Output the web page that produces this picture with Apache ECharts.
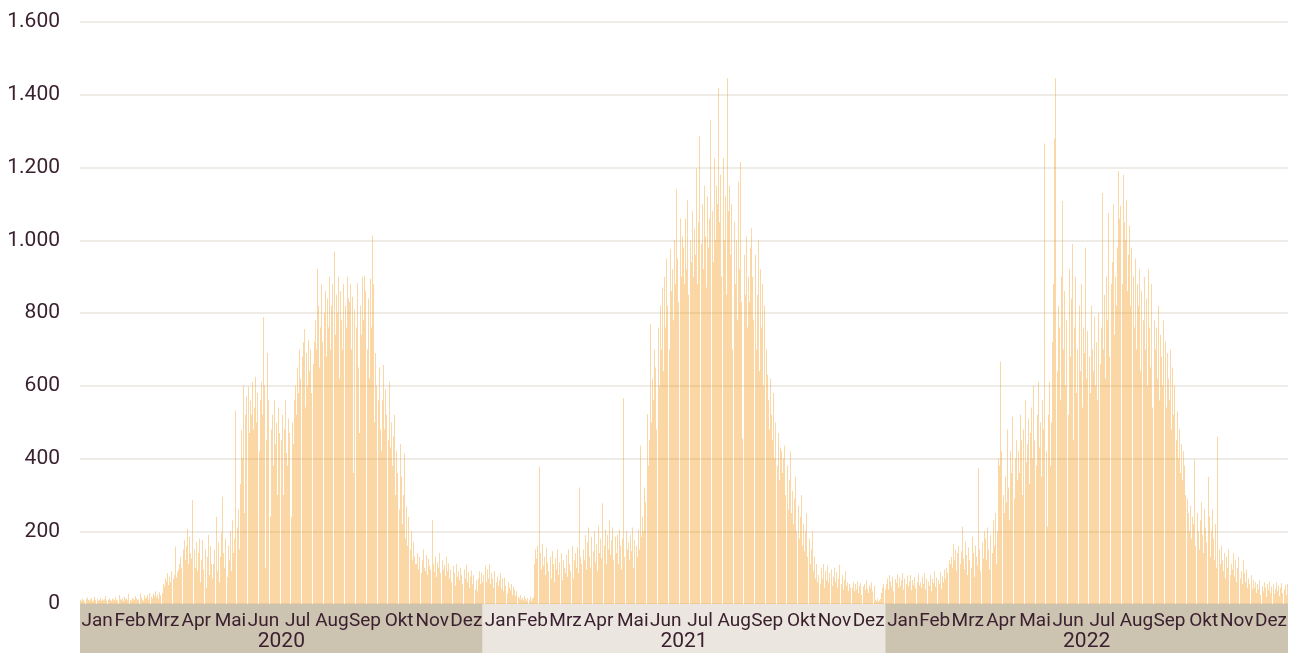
<!DOCTYPE html>
<html><head><meta charset="utf-8">
<script src="https://cdn.jsdelivr.net/npm/echarts@6/dist/echarts.min.js"></script>
<style>html,body{margin:0;padding:0;background:#fff}#chart{width:1296px;height:653px}</style>
</head><body><div id="chart"></div>
<script>
const monthNames = ['Jan','Feb','Mrz','Apr','Mai','Jun','Jul','Aug','Sep','Okt','Nov','Dez'];
const years = ['2020','2021','2022'];

const cases2020 = [
[12,8,15,10,6,14,18,11,9,13,16,7,10,20,12,15,9,11,17,8,14,10,13,22,9,12,16,11,8,15,13],
[10,18,12,9,25,14,11,16,8,20,13,15,10,28,12,9,17,14,11,22,16,10,13,30,18,12,9,24,15],
[18,25,12,30,20,15,28,22,35,18,26,14,32,24,30,55,48,70,62,85,52,75,60,90,68,80,158,72,88,95,110],
[130,100,150,175,120,160,206,110,185,140,125,286,150,100,170,90,140,180,60,120,176,95,150,45,130,190,80,160,110,70],
[110,150,240,90,170,60,130,195,295,140,100,180,75,160,120,200,90,230,140,180,532,210,260,150,330,478,400,600,250,520,570],
[598,470,560,520,610,480,540,625,500,580,420,560,610,520,789,600,100,450,690,560,240,480,520,380,560,440,500,300,540,470],
[450,520,300,480,560,415,380,510,470,240,500,440,560,600,520,650,580,700,620,680,720,756,540,690,600,726,640,700,580,660,720],
[780,700,921,820,650,760,880,720,800,860,680,840,760,900,700,820,880,969,740,850,800,900,620,860,780,700,880,820,760,900,840],
[830,880,700,845,360,808,760,882,650,470,820,740,900,780,902,860,700,840,620,895,760,1013,880,500,690,600,560,650,480,420],
[560,657,480,590,520,450,610,430,500,380,460,520,300,420,360,260,440,350,220,300,414,180,268,160,240,150,200,120,170,130,110],
[110,140,95,130,85,120,150,100,90,135,80,125,105,95,230,110,88,130,75,115,100,140,85,120,95,108,78,130,90,112],
[70,95,60,105,85,50,110,75,90,65,100,80,55,95,70,108,60,88,45,75,92,55,80,40,65,35,70,90,55,85,60]
];

const cases2021 = [
[80,105,60,95,70,110,55,85,70,45,90,60,75,50,65,85,42,70,35,72,50,28,60,45,38,55,25,48,40,22,35],
[20,15,25,12,18,10,22,14,9,16,12,20,8,15,18,110,150,125,160,377,140,95,165,105,130,80,155,115],
[90,130,70,145,110,60,125,95,150,80,115,140,65,120,100,85,135,75,150,110,90,160,70,120,140,100,155,85,320,130,110],
[150,120,190,95,170,210,130,100,185,145,200,115,165,90,215,140,180,125,277,160,205,110,190,150,230,135,175,210,120,185],
[140,190,110,205,160,95,180,566,130,200,150,170,120,190,145,210,100,175,160,130,205,150,435,185,240,200,320,280,522,380,450],
[770,500,620,560,700,650,480,760,600,820,700,870,640,900,760,950,820,700,975,860,920,780,1000,880,1140,950,830,1060,900,1010],
[980,880,1060,920,1110,850,1000,940,1080,900,1030,960,1197,880,1050,1286,990,1100,920,1150,1010,870,1120,980,1060,1330,1080,940,1226,1000,1150],
[1100,1419,1050,1180,900,1226,1000,1120,850,1446,1080,1150,960,1100,700,1050,880,1000,780,1160,920,1216,830,455,960,850,1010,760,900,830,980],
[1033,900,780,960,700,850,1000,640,920,760,880,600,820,700,630,560,480,620,520,450,580,400,500,380,470,340,430,420,360,400],
[435,300,380,260,340,420,250,310,220,290,350,200,270,180,240,300,160,220,145,200,250,130,180,110,150,200,90,130,70,110,60],
[80,55,100,70,110,45,90,65,105,60,85,95,50,75,100,60,88,45,70,108,55,80,40,65,90,50,60,35,55,45],
[45,60,35,55,40,62,30,50,58,25,48,55,38,65,42,30,52,45,60,35,50,12,8,15,6,10,14,30,45,55,40]
];

const cases2022 = [
[55,70,40,80,62,48,75,35,68,58,82,45,72,50,65,85,40,70,55,78,48,62,80,38,66,52,74,45,60,83,50],
[60,45,75,55,85,40,70,62,50,80,35,68,58,90,48,72,65,55,88,42,76,60,95,70,100,85,120,110],
[130,100,165,120,150,90,140,160,110,145,213,125,95,170,135,80,155,120,100,185,140,75,160,130,105,373,150,90,170,125,200],
[180,120,210,150,95,190,140,230,160,250,110,200,400,380,666,420,300,250,350,280,480,320,230,420,360,515,290,400,450,340],
[420,360,520,450,300,480,560,390,440,510,330,470,540,400,600,450,380,520,610,430,500,350,560,480,1266,420,213,520,610,380,500],
[720,880,1280,1446,640,820,760,560,900,1108,700,860,600,780,520,920,680,840,990,450,760,900,580,700,820,640,880,540,760,690],
[980,620,750,680,580,820,700,640,790,600,720,560,800,660,760,1130,700,850,620,900,780,1075,680,880,940,1100,740,900,820,980,1190],
[1060,1095,880,1180,1050,1000,1110,860,960,1040,820,980,900,760,950,700,880,820,920,640,860,780,900,700,840,600,920,760,650,880,540],
[780,700,760,620,820,560,740,680,600,780,720,540,690,620,560,700,480,650,520,600,450,530,400,480,360,440,340,420,380,300],
[290,250,200,270,180,240,220,397,160,250,200,150,230,280,190,140,260,210,170,350,240,130,200,260,180,120,220,100,460,150,110],
[160,120,90,140,70,130,100,150,80,110,95,140,75,120,60,100,130,70,90,55,120,85,60,95,45,70,55,80,40,65],
[45,60,30,55,40,65,25,50,35,60,45,20,55,38,62,30,48,55,28,42,60,35,50,22,45,58,30,40,52,25,55]
];

const textColor = '#3b2130';
const allYears = [cases2020, cases2021, cases2022];
const dayCats = [], dayVals = [], monthLabelAt = [];
allYears.forEach((yr, yi) => {
  yr.forEach((m, mi) => {
    const mid = Math.floor((m.length - 1) / 2);
    m.forEach((v, di) => {
      dayCats.push(years[yi] + '-' + (mi + 1) + '-' + (di + 1));
      dayVals.push(v);
      monthLabelAt.push(di === mid ? monthNames[mi] : '');
    });
  });
});

function deNum(v) { return String(v).replace(/\B(?=(\d{3})+(?!\d))/g, '.'); }

const chart = echarts.init(document.getElementById('chart'), null, {renderer: 'canvas'});
chart.setOption({
  animation: false,
  backgroundColor: '#ffffff',
  textStyle: {fontFamily: 'Roboto'},
  grid: [
    {left: 80, right: 8, top: 22, bottom: 49},
    {left: 80, right: 8, top: 604, bottom: 0}
  ],
  xAxis: [
    {gridIndex: 0, type: 'category', data: dayCats, axisLine: {show: false}, axisTick: {show: false},
     axisLabel: {show: false}, splitLine: {show: false}},
    {gridIndex: 1, type: 'category', data: dayCats, position: 'top', axisLine: {show: false}, axisTick: {show: false},
     axisLabel: {inside: true, margin: 8, fontSize: 19, color: textColor, fontFamily: 'Roboto',
       interval: (i) => monthLabelAt[i] !== '', formatter: (v, i) => monthLabelAt[i]},
     splitLine: {show: false}},
    {gridIndex: 1, type: 'category', data: years, position: 'bottom', axisLine: {show: false},
     axisTick: {show: false, interval: 0},
     axisLabel: {inside: true, interval: 0, margin: 1, fontSize: 21, color: textColor, fontFamily: 'Roboto'},
     splitArea: {show: true, interval: 0, areaStyle: {color: ['#cdc3b1', '#ebe7e0']}}}
  ],
  yAxis: [
    {gridIndex: 0, type: 'value', min: 0, max: 1600, interval: 200,
     axisLabel: {formatter: deNum, fontSize: 21, color: textColor, margin: 20, fontFamily: 'Roboto', padding: [4, 0, 0, 0]},
     splitLine: {lineStyle: {color: '#efebe6', width: 2}}, axisLine: {show: false}, axisTick: {show: false}},
    {gridIndex: 1, type: 'value', show: false}
  ],
  series: [{
    type: 'custom', xAxisIndex: 0, yAxisIndex: 0, silent: true,
    data: dayVals.map((v, i) => [i, v]),
    encode: {x: 0, y: 1},
    renderItem: function (params, api) {
      const i = api.value(0), v = api.value(1);
      const top = api.coord([i, v]);
      const base = api.coord([i, 0]);
      const band = api.size([1, 0])[0];
      const x = Math.round(top[0] - band / 2);
      return {
        type: 'rect',
        shape: {x: x, y: top[1], width: 1, height: base[1] - top[1]},
        style: {fill: 'rgba(242,160,40,0.42)'}
      };
    }
  }]
});
</script>
</body></html>
